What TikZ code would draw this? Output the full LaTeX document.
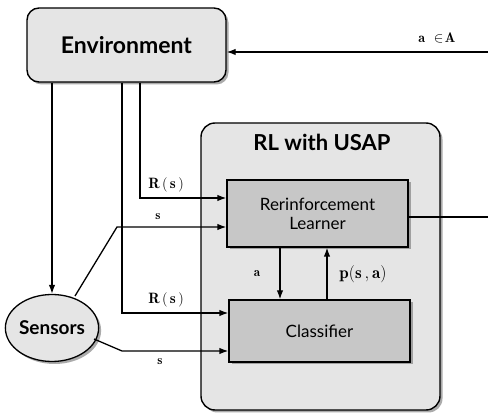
\documentclass[tikz,border=0pt]{standalone}
\usepackage{fontspec}
\setsansfont{Lato}
\usetikzlibrary{shadows,shapes.geometric,arrows.meta}
\begin{document}
\begin{tikzpicture}[x=1pt,y=-1pt,
  shad/.style={drop shadow={shadow xshift=2.5pt,shadow yshift=-2.5pt,fill=black!55,opacity=0.6}},
  bigbox/.style={draw=black,line width=1.4pt,rounded corners=12pt,fill=black!10,shad},
  innerbox/.style={draw=black,line width=1.3pt,fill=black!22,shad,font=\sffamily\fontsize{17}{19}\selectfont,align=center},
  sensbox/.style={ellipse,draw=black,line width=1.3pt,fill=black!10,shad,font=\sffamily\bfseries\fontsize{19}{21}\selectfont,inner sep=0pt},
  conn/.style={line width=1.3pt},
  arr/.style={conn,-{Latex[length=9pt,width=6.5pt]}},
  lab/.style={font=\fontsize{15}{17}\selectfont,inner sep=1pt}
]
\useasboundingbox[fill=white] (0,0) rectangle (488,414);
% boxes
\node[bigbox,minimum width=199pt,minimum height=74pt,font=\sffamily\bfseries\fontsize{23}{25}\selectfont] (env) at (126.5,45) {Environment};
\node[bigbox,minimum width=239pt,minimum height=287pt,rounded corners=14pt] (usap) at (320.5,266.5) {};
\node[font=\sffamily\bfseries\fontsize{22}{24}\selectfont] (title) at (322,142) {RL with USAP};
\node[innerbox,minimum width=181pt,minimum height=67pt] (rl) at (317.5,213.5) {Rerinforcement\\Learner};
\node[innerbox,minimum width=181pt,minimum height=62pt] (cls) at (319.5,331) {Classifier};
\node[sensbox,minimum width=88pt,minimum height=67pt] (sens) at (52,328) {Sensors};
% helper coordinates
\coordinate (xa) at (140,0);
\coordinate (xb) at (122,0);
\coordinate (y1) at (0,198);
\coordinate (y2) at (0,227);
\coordinate (y3) at (0,313);
\coordinate (y4) at (0,351);
\coordinate (k1) at (117,227);
\coordinate (k2) at (122,351);
\coordinate (s1) at (75,296);
\coordinate (s2) at (94,339);
\coordinate (outR) at (488,217);
\coordinate (inA) at (488,52);
% connectors
\draw[arr] (env.south -| sens) -- (sens.north);
\draw[arr] (env.south -| xa) |- (rl.west |- y1);
\draw[arr] (env.south -| xb) |- (cls.west |- y3);
\draw[arr] (s1) -- (k1) -- (rl.west |- y2);
\draw[arr] (s2) -- (k2) -- (cls.west |- y4);
\draw[arr] (rl.south -| 280,0) -- (cls.north -| 280,0);
\draw[arr] (cls.north -| 327,0) -- (rl.south -| 327,0);
\draw[conn] (rl.east |- outR) -- (outR);
\draw[arr] (inA) -- (env.east |- inA);
% labels
\node[lab] at (166,185) {$\mathbf{R\,(\,s\,)}$};
\node[lab,font=\fontsize{13}{15}\selectfont] at (158,217) {$\mathbf{s}$};
\node[lab] at (166,300) {$\mathbf{R\,(\,s\,)}$};
\node[lab,font=\fontsize{13}{15}\selectfont] at (160,362) {$\mathbf{s}$};
\node[lab,font=\fontsize{13}{15}\selectfont] at (257,274) {$\mathbf{a}$};
\node[lab,font=\fontsize{17}{19}\selectfont] at (363,274) {$\mathbf{p(s\,,a)}$};
\node[lab,font=\fontsize{14}{16}\selectfont] at (437,38) {$\mathbf{a\ \in\! A}$};
\end{tikzpicture}
\end{document}
